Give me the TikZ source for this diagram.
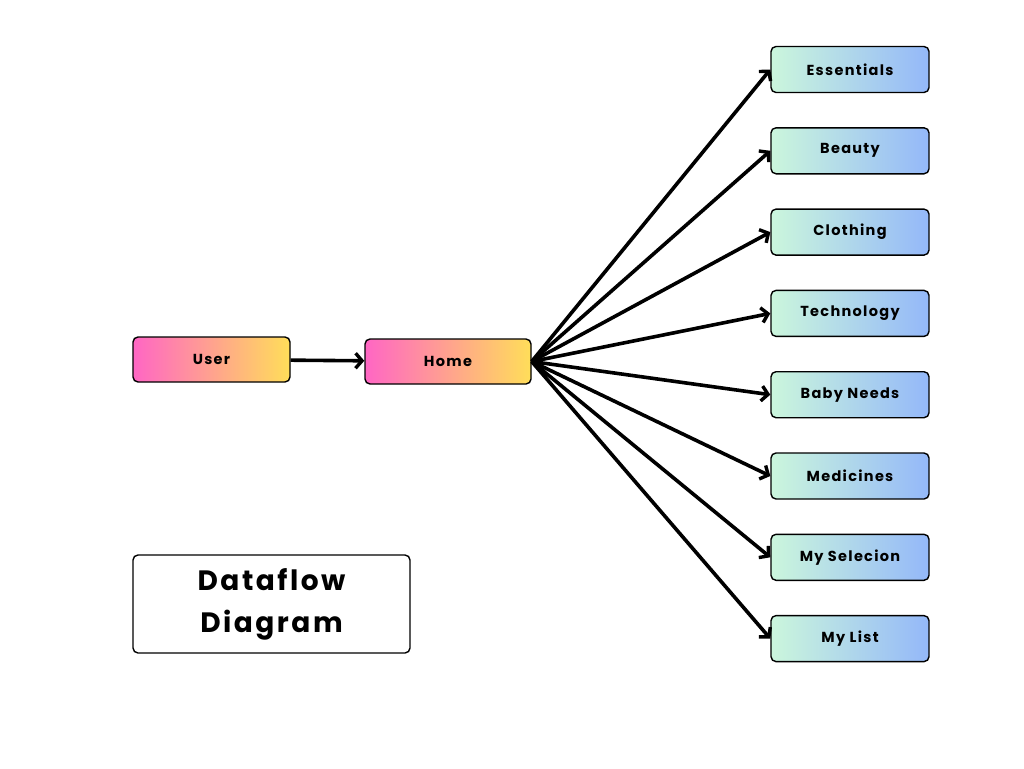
\documentclass[tikz,border=0pt]{standalone}
\usepackage{fontspec}
\setmainfont{Poppins}
\newfontfamily\boxfont{Poppins}[LetterSpace=9]
\usepackage{tikz}
\usetikzlibrary{positioning,arrows.meta}
\definecolor{warmL}{HTML}{FF66C4}
\definecolor{warmR}{HTML}{FFDE59}
\definecolor{coolL}{HTML}{CBF6DC}
\definecolor{coolR}{HTML}{94B8F9}
\tikzset{warm/.style={draw,rounded corners=5pt,line width=1.4pt,left color=warmL,right color=warmR,minimum height=45pt,font=\boxfont\bfseries\fontsize{14.5}{17}\selectfont},
	 cool/.style={draw,rounded corners=5pt,line width=1.4pt,left color=coolL,right color=coolR,minimum width=158pt,minimum height=46pt,font=\boxfont\bfseries\fontsize{14.5}{17}\selectfont},
	 flow/.style={line width=3.6pt,-{Straight Barb[length=6.5pt,width=15pt,line width=3.4pt]}},
	 node distance = 33.9pt
	 }

\begin{document}
\begin{tikzpicture}[x=1pt,y=-1pt] % dataflow of the shop app
	\useasboundingbox (0,0) rectangle (1024,768);
	\node[warm,minimum width=157pt] (user) at (211.5,359.5) {User};
	\node[warm,minimum width=166pt] (home) at (448,361.5) {Home};
	\node[cool] (ess) at (850,69.5) {Essentials};
	\node[cool] (beauty) [below=of ess] {Beauty};
	\node[cool] (cloth) [below=of beauty] {Clothing};
	\node[cool] (tech) [below=of cloth] {Technology};
	\node[cool] (baby) [below=of tech] {Baby Needs};
	\node[cool] (med) [below=of baby] {Medicines};
	\node[cool] (sel) [below=of med] {My Selecion};
	\node[cool] (list) [below=of sel] {My List};
	\node[draw,rounded corners=5pt,line width=1.4pt,minimum width=277pt,minimum height=98pt,align=center,font=\boxfont\bfseries\fontsize{28}{42}\selectfont] (title) at (271.5,604) {Dataflow\\Diagram};
	\draw[flow] (user) -- (home);
	\draw[flow] (home.east) -- (ess.west); \draw[flow] (home.east) -- (beauty.west);
	\draw[flow] (home.east) -- (cloth.west); \draw[flow] (home.east) -- (tech.west);
	\draw[flow] (home.east) -- (baby.west); \draw[flow] (home.east) -- (med.west);
	\draw[flow] (home.east) -- (sel.west); \draw[flow] (home.east) -- (list.west);
\end{tikzpicture}
\end{document}
